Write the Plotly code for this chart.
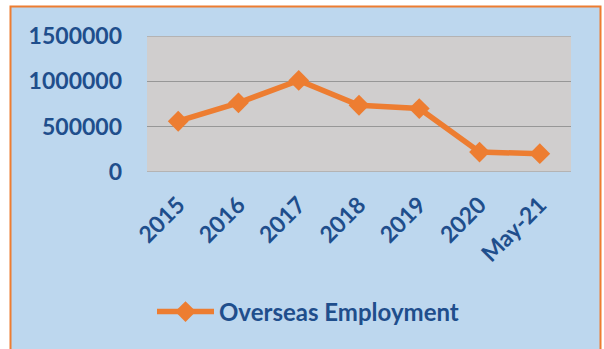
import plotly.graph_objects as go

categories = ["2015", "2016", "2017", "2018", "2019", "2020", "May-21"]
employment = [560000, 763000, 1010000, 736000, 700000, 220000, 202000]
y_ticks = [0, 500000, 1000000, 1500000]

ORANGE = "#ED7D31"
BLUE_TXT = "#1F4E8C"
GRID = "#979797"
FONT = "Lato"

W, H = 604, 349
L, R, T, B = 147, 33, 36, 177
pw, ph = W - L - R, H - T - B

def px_x(p):
    return (p - L) / pw

def px_y(p):
    return (H - B - p) / ph

fig = go.Figure()
fig.add_trace(go.Scatter(
    x=categories, y=employment, mode="lines+markers",
    name="Overseas Employment",
    line=dict(color=ORANGE, width=5.5),
    marker=dict(symbol="diamond", size=16, color=ORANGE),
    cliponaxis=False,
))

fig.add_shape(type="rect", xref="paper", yref="paper",
              x0=px_x(10.5), x1=px_x(600.5), y0=px_y(380), y1=px_y(6.5),
              fillcolor="#BDD7EE", line=dict(color=ORANGE, width=2), layer="below")
fig.add_shape(type="rect", xref="paper", yref="paper",
              x0=0, x1=1, y0=0, y1=1,
              fillcolor="#D0CECE", line=dict(width=0), layer="below")
for v in (y_ticks[0], y_ticks[-1]):
    fig.add_shape(type="line", xref="paper", yref="y", x0=0, x1=1, y0=v, y1=v,
                  line=dict(color=GRID, width=1.2), layer="below")

fig.update_layout(
    width=W, height=H,
    margin=dict(l=L, r=R, t=T, b=B),
    paper_bgcolor="white",
    plot_bgcolor="#D0CECE",
    font=dict(family=FONT, color=BLUE_TXT),
    showlegend=True,
    legend=dict(orientation="h", x=px_x(152), y=px_y(312), xanchor="left", yanchor="middle",
                font=dict(family=FONT, size=24, color=BLUE_TXT, weight="bold"),
                bgcolor="rgba(0,0,0,0)", itemwidth=57),
    xaxis=dict(
        tickangle=-45, tickfont=dict(family=FONT, size=23, color=BLUE_TXT, weight="bold"),
        showgrid=False, showline=False, zeroline=False, ticklabelstandoff=14,
    ),
    yaxis=dict(
        range=[0, 1500000], tickvals=y_ticks, ticktext=[str(v) for v in y_ticks],
        tickfont=dict(family=FONT, size=23, color=BLUE_TXT, weight="bold"),
        showgrid=True, gridcolor=GRID, gridwidth=1.2, zeroline=False,
        showline=False, ticklabelstandoff=24,
    ),
)

fig.write_html("out.html")
